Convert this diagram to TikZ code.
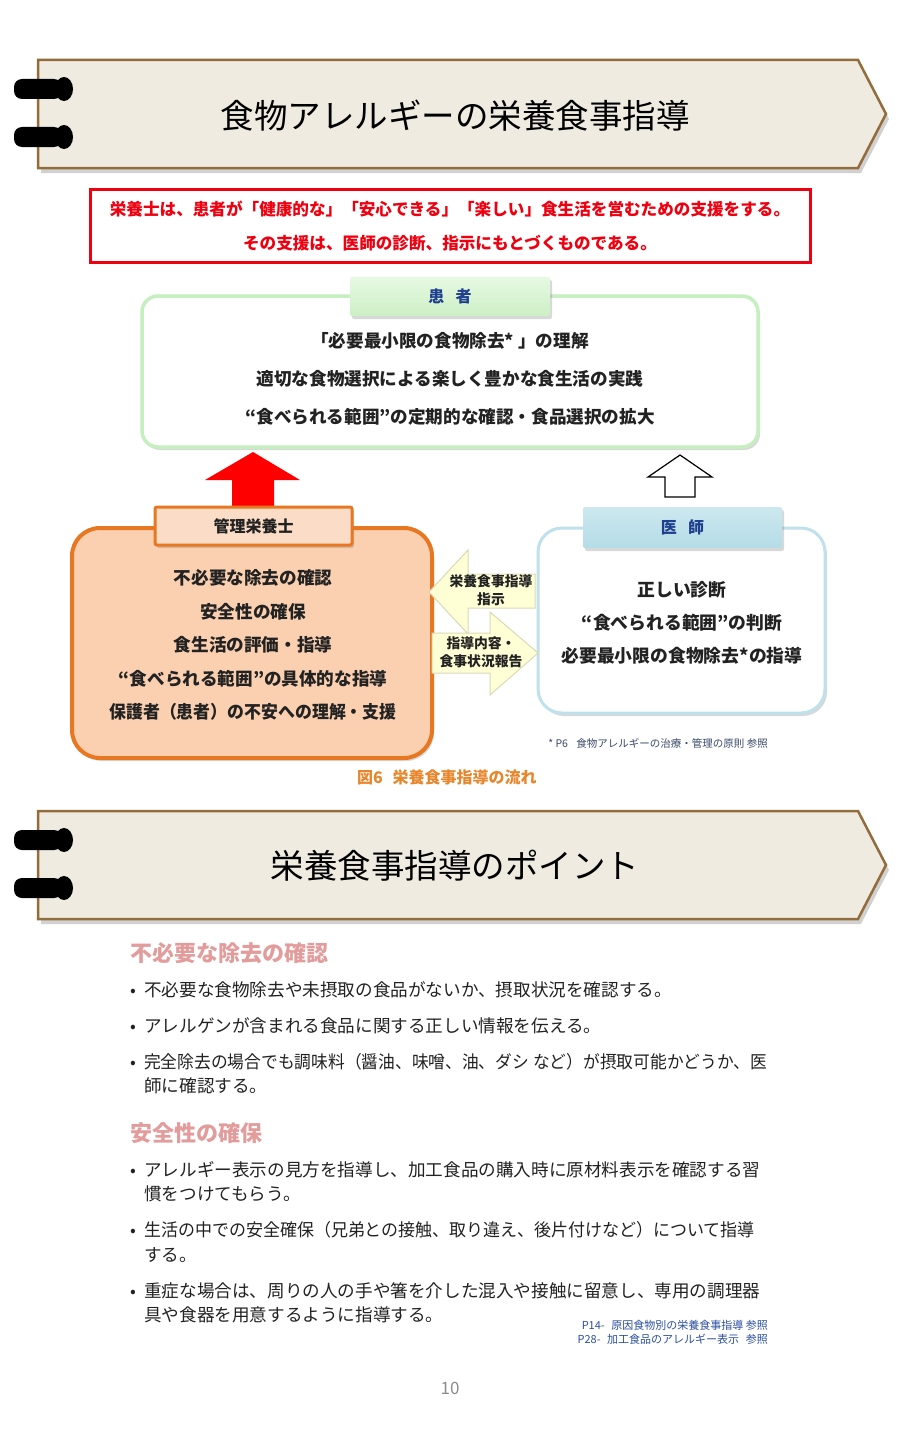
\documentclass[tikz,border=0pt]{standalone}
\usepackage{fontspec}
\setmainfont{Noto Sans CJK JP}
\usetikzlibrary{shadows}
\definecolor{bannerfill}{HTML}{EFEBE1}
\definecolor{bannerline}{HTML}{936C3C}
\definecolor{redc}{HTML}{EE0010}
\definecolor{arrowred}{HTML}{FF0000}
\definecolor{greenline}{HTML}{C6EFC0}
\definecolor{greentab}{HTML}{CDEFC6}
\definecolor{greentabtop}{HTML}{E6F9E2}
\definecolor{navy}{HTML}{1F3F8F}
\definecolor{orangeline}{HTML}{E87722}
\definecolor{orangefill}{HTML}{FAD0B0}
\definecolor{orangetab}{HTML}{FBDCC6}
\definecolor{blueline}{HTML}{BFE1EB}
\definecolor{bluetab}{HTML}{B4DCE7}
\definecolor{bluetabtop}{HTML}{CDE8EF}
\definecolor{yelfill}{HTML}{FFFFD6}
\definecolor{yelline}{HTML}{D9D9B8}
\definecolor{pinkc}{HTML}{E29C9C}
\definecolor{capc}{HTML}{E8862C}
\definecolor{footc}{HTML}{3A4A6A}
\definecolor{refc}{HTML}{2B4FA0}
\definecolor{bodyc}{HTML}{222222}
\begin{document}
\begin{tikzpicture}[x=1pt,y=-1pt,
  banner/.pic={
    \fill[black!40,opacity=0.45] (41,65) -- (861,65) -- (889,119) -- (861,173) -- (41,173) -- cycle;
    \filldraw[fill=bannerfill,draw=bannerline,line width=2.5pt,line join=miter] (38,60) -- (858,60) -- (886,114) -- (858,168) -- (38,168) -- cycle;
    \fill[black,rounded corners=8pt] (14,79) rectangle (62,99);
    \fill[black] (64,89) ellipse (9 and 12);
    \fill[black,rounded corners=8pt] (14,127) rectangle (62,147);
    \fill[black] (64,137) ellipse (9 and 12);
  },
  bannertitle/.style={font=\fontsize{33.5}{33.5}\selectfont},
  shad/.style={drop shadow={opacity=0.3,shadow xshift=2pt,shadow yshift=-3pt}},
  bigbox/.style={rounded corners=16pt,fill=white,shad},
  tabbox/.style={rounded corners=2pt,shad,font=\bfseries\fontsize{16}{16}\selectfont},
  linesbold/.style={align=center,font=\bfseries\fontsize{17.6}{33.5}\selectfont,text=bodyc},
  arrowtext/.style={align=center,inner sep=0pt,font=\bfseries\fontsize{13.8}{18}\selectfont,text=bodyc},
  bodyline/.style={anchor=base west,inner sep=0pt,font=\fontsize{17.6}{17.6}\selectfont,text=bodyc},
  bullet/.style={anchor=base west,inner sep=0pt,font=\fontsize{17}{17}\selectfont,text=bodyc},
  heading/.style={anchor=west,inner sep=0pt,text=pinkc,font=\bfseries\fontsize{22}{22}\selectfont},
  refnote/.style={anchor=east,inner sep=0pt,text=refc,font=\fontsize{11}{11}\selectfont}
]
\useasboundingbox (0,0) rectangle (900,1453);
\fill[white] (0,0) rectangle (900,1453);

% ---------- banner 1 ----------
\pic at (0,0) {banner};
\node[bannertitle] (title1) at (455,116) {食物アレルギーの栄養食事指導};

% ---------- red statement box ----------
\node[draw=redc,line width=3pt,minimum width=720pt,minimum height=73pt,align=center,
      text=redc,font=\bfseries\fontsize{16.6}{34}\selectfont] (lead) at (450,226)
  {栄養士は、患者が「健康的な」「安心できる」「楽しい」食生活を営むための支援をする。\\その支援は、医師の診断、指示にもとづくものである。};

% ---------- patient ----------
\node[bigbox,draw=greenline,line width=3.5pt,minimum width=616pt,minimum height=151pt] (pat) at (450,371.5) {};
\node[tabbox,top color=greentabtop,bottom color=greentab,minimum width=200pt,minimum height=39pt,text=navy] (pattab) at (450,296.5) {患\hspace{0.7em}者};
\node[linesbold,font=\bfseries\fontsize{17.6}{38}\selectfont] (pattext) at (450,379)
  {「必要最小限の食物除去* 」の理解\\適切な食物選択による楽しく豊かな食生活の実践\\“食べられる範囲”の定期的な確認・食品選択の拡大};

% ---------- block arrows up ----------
\fill[arrowred] (253,452) -- (300,480) -- (274,480) -- (274,512) -- (232,512) -- (232,480) -- (205,480) -- cycle;
\filldraw[fill=white,draw=black,line width=1.2pt,line join=miter] (680,455) -- (712,477) -- (695,477) -- (695,497) -- (665,497) -- (665,477) -- (648,477) -- cycle;

% ---------- dietitian ----------
\node[bigbox,draw=orangeline,fill=orangefill,line width=4pt,rounded corners=28pt,minimum width=360pt,minimum height=230pt] (diet) at (252,643) {};
\node[tabbox,draw=orangeline,line width=3pt,fill=orangetab,minimum width=197pt,minimum height=38pt,text=bodyc] (diettab) at (253.5,526) {管理栄養士};
\node[linesbold] (diettext) at (253,645)
  {不必要な除去の確認\\安全性の確保\\食生活の評価・指導\\“食べられる範囲”の具体的な指導\\\scalebox{0.96}[1]{保護者（患者）の不安への理解・支援}};

% ---------- doctor ----------
\node[bigbox,draw=blueline,line width=3pt,rounded corners=24pt,minimum width=287pt,minimum height=185pt] (doc) at (681.5,620.5) {};
\node[tabbox,top color=bluetabtop,bottom color=bluetab,minimum width=199pt,minimum height=41pt,text=navy] (doctab) at (682.5,527.5) {医\hspace{0.7em}師};
\node[linesbold,font=\bfseries\fontsize{17.8}{33}\selectfont] (doctext) at (682,623)
  {正しい診断\\“食べられる範囲”の判断\\必要最小限の食物除去*の指導};

% ---------- exchange arrows ----------
\filldraw[fill=yelfill,draw=yelline,line width=1pt,line join=miter] (429,592) -- (468,550) -- (468,574) -- (535,574) -- (535,608) -- (468,608) -- (468,634) -- cycle;
\filldraw[fill=yelfill,draw=yelline,line width=1pt,line join=miter] (432,633) -- (490,633) -- (490,612) -- (538,653) -- (490,695) -- (490,673) -- (432,673) -- cycle;
\node[arrowtext] (instr) at (491,590) {栄養食事指導\\指示};
\node[arrowtext] (report) at (481,652) {指導内容・\\食事状況報告};

% ---------- notes ----------
\node[anchor=east,inner sep=0pt,text=footc,font=\fontsize{10.5}{10.5}\selectfont] (fn1) at (768,743) {* P6\hspace{0.8em}食物アレルギーの治療・管理の原則 参照};
\node[anchor=west,inner sep=0pt,text=capc,font=\bfseries\fontsize{16}{16}\selectfont] (cap) at (357,777) {図6\hspace{0.6em}栄養食事指導の流れ};

% ---------- banner 2 ----------
\pic at (0,751) {banner};
\node[bannertitle] (title2) at (455,866) {栄養食事指導のポイント};

% ---------- points ----------
\node[heading] (h1) at (130,953) {不必要な除去の確認};
\node[bullet] (d1) at (130,996) {•};
\node[bodyline] (l1) at (144,996) {不必要な食物除去や未摂取の食品がないか、摂取状況を確認する。};
\node[bullet] (d2) at (130,1032) {•};
\node[bodyline] (l2) at (144,1032) {アレルゲンが含まれる食品に関する正しい情報を伝える。};
\node[bullet] (d3) at (130,1068) {•};
\node[bodyline] (l3a) at (144,1068) {\scalebox{0.951}[1]{完全除去の場合でも調味料（醤油、味噌、油、ダシ など）が摂取可能かどうか、医}};
\node[bodyline] (l3b) at (144,1092) {師に確認する。};

\node[heading] (h2) at (130,1133) {安全性の確保};
\node[bullet] (d4) at (130,1176) {•};
\node[bodyline] (l4a) at (144,1176) {アレルギー表示の見方を指導し、加工食品の購入時に原材料表示を確認する習};
\node[bodyline] (l4b) at (144,1200) {慣をつけてもらう。};
\node[bullet] (d5) at (130,1236) {•};
\node[bodyline] (l5a) at (144,1236) {\scalebox{0.965}[1]{生活の中での安全確保（兄弟との接触、取り違え、後片付けなど）について指導}};
\node[bodyline] (l5b) at (144,1261) {する。};
\node[bullet] (d6) at (130,1297) {•};
\node[bodyline] (l6a) at (144,1297) {重症な場合は、周りの人の手や箸を介した混入や接触に留意し、専用の調理器};
\node[bodyline] (l6b) at (144,1321) {具や食器を用意するように指導する。};

\node[refnote] (r1) at (768,1325) {P14-\hspace{0.6em}原因食物別の栄養食事指導 参照};
\node[refnote] (r2) at (768,1339) {P28-\hspace{0.6em}加工食品のアレルギー表示\hspace{0.6em}参照};

\node[text=black!45,font=\fontsize{17}{17}\selectfont] (pg) at (450,1388) {10};
\end{tikzpicture}
\end{document}
